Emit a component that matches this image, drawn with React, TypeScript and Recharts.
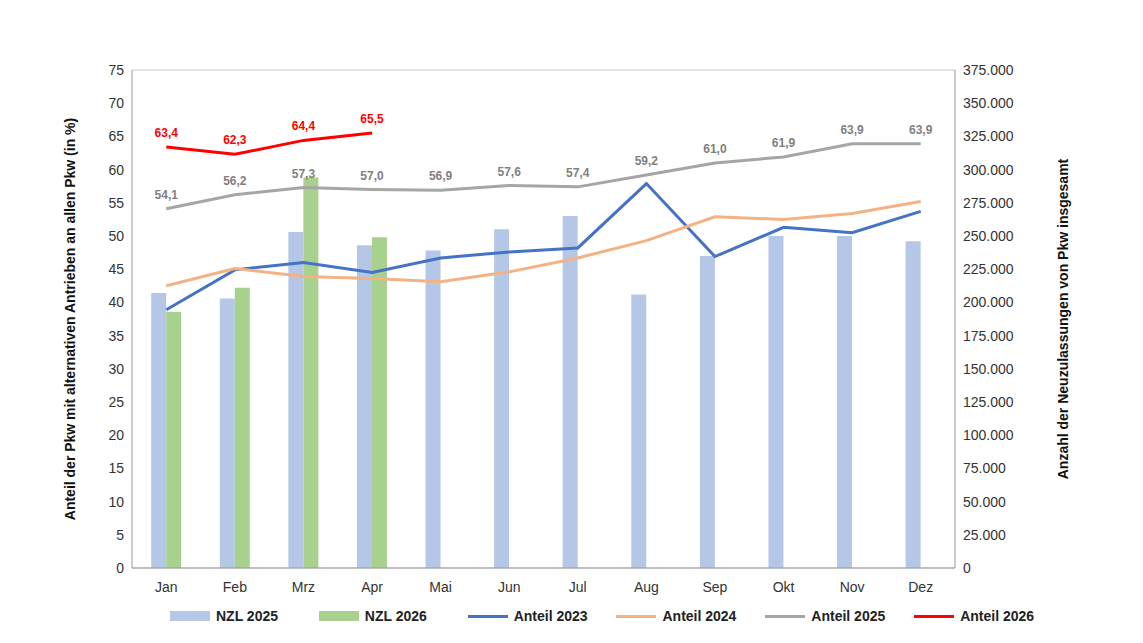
import React from 'react';
import { ComposedChart, Bar, Line, XAxis, YAxis, CartesianGrid, Legend, LabelList } from 'recharts';

const months = ['Jan', 'Feb', 'Mrz', 'Apr', 'Mai', 'Jun', 'Jul', 'Aug', 'Sep', 'Okt', 'Nov', 'Dez'];
const nzl2025 = [207000, 203000, 253000, 243000, 239000, 255000, 265000, 206000, 235000, 250000, 250000, 246000];
const nzl2026: (number | null)[] = [193000, 211000, 294000, 249000, null, null, null, null, null, null, null, null];
const anteil2023 = [38.9, 44.9, 46.0, 44.5, 46.7, 47.6, 48.2, 57.9, 46.9, 51.3, 50.5, 53.7];
const anteil2024 = [42.5, 45.1, 43.9, 43.6, 43.1, 44.6, 46.7, 49.3, 52.9, 52.5, 53.4, 55.2];
const anteil2025 = [54.1, 56.2, 57.3, 57.0, 56.9, 57.6, 57.4, 59.2, 61.0, 61.9, 63.9, 63.9];
const anteil2026: (number | null)[] = [63.4, 62.3, 64.4, 65.5, null, null, null, null, null, null, null, null];

const leftTicks = [0, 5, 10, 15, 20, 25, 30, 35, 40, 45, 50, 55, 60, 65, 70, 75];
const rightTicks = leftTicks.map((t) => t * 5000);

const data = months.map((m, i) => ({
  month: m,
  nzl2025: nzl2025[i],
  nzl2026: nzl2026[i],
  a2023: anteil2023[i],
  a2024: anteil2024[i],
  a2025: anteil2025[i],
  a2026: anteil2026[i],
}));

const legendItems = [
  { name: 'NZL 2025', color: '#B4C7E7', bar: true },
  { name: 'NZL 2026', color: '#A9D18E', bar: true },
  { name: 'Anteil 2023', color: '#4472C4', bar: false },
  { name: 'Anteil 2024', color: '#F4B183', bar: false },
  { name: 'Anteil 2025', color: '#A5A5A5', bar: false },
  { name: 'Anteil 2026', color: '#FF0000', bar: false },
];

const fmtDec = (v: any) => (v == null ? '' : Number(v).toFixed(1).replace('.', ','));
const fmtThousand = (v: number) => (v === 0 ? '0' : v.toLocaleString('de-DE'));

const renderLegend = () => (
  <div style={{ display: 'flex', fontWeight: 700, fontSize: 14, color: '#222', paddingLeft: 110 }}>
    {legendItems.map((it) => (
      <div key={it.name} style={{ display: 'flex', alignItems: 'center', width: 152 }}>
        <span
          style={{
            display: 'inline-block',
            width: 40,
            height: it.bar ? 10 : 3,
            background: it.color,
            marginRight: 6,
          }}
        />
        {it.name}
      </div>
    ))}
  </div>
);

const tickStyle = { fontSize: 14, fill: '#333' };

export default function App() {
  return (
    <div style={{ fontFamily: 'Liberation Sans, Arial, sans-serif', background: '#fff' }}>
      <ComposedChart
        width={1127}
        height={616}
        data={data}
        margin={{ top: 62, right: 72, left: 52, bottom: 10 }}
        barCategoryGap="28%"
        barGap={0}
      >
        <CartesianGrid vertical={false} stroke="#c8c8c8" />
        <XAxis dataKey="month" tick={tickStyle} tickLine={false} axisLine={{ stroke: '#999' }} tickMargin={8} />
        <YAxis
          yAxisId="left"
          domain={[0, 75]}
          ticks={leftTicks}
          interval={0}
          tick={tickStyle}
          tickLine={false}
          axisLine={{ stroke: '#999' }}
          width={72}
          label={{
            value: 'Anteil der Pkw mit alternativen Antrieben an allen Pkw (in %)',
            angle: -90,
            position: 'insideLeft',
            offset: 10,
            style: { textAnchor: 'middle', fontSize: 14, fontWeight: 700, fill: '#111' },
          }}
        />
        <YAxis
          yAxisId="right"
          orientation="right"
          domain={[0, 375000]}
          ticks={rightTicks}
          interval={0}
          tickFormatter={fmtThousand}
          tick={tickStyle}
          tickLine={false}
          axisLine={{ stroke: '#999' }}
          width={108}
          label={{
            value: 'Anzahl der Neuzulassungen von Pkw insgesamt',
            angle: -90,
            position: 'insideRight',
            offset: 0,
            style: { textAnchor: 'middle', fontSize: 14, fontWeight: 700, fill: '#111' },
          }}
        />
        <Legend verticalAlign="bottom" content={renderLegend} wrapperStyle={{ bottom: 0 }} />
        <Bar yAxisId="right" dataKey="nzl2025" fill="#B4C7E7" isAnimationActive={false} />
        <Bar yAxisId="right" dataKey="nzl2026" fill="#A9D18E" isAnimationActive={false} />
        <Line yAxisId="left" type="linear" dataKey="a2023" stroke="#4472C4" strokeWidth={3} dot={false} isAnimationActive={false} />
        <Line yAxisId="left" type="linear" dataKey="a2024" stroke="#F4B183" strokeWidth={3} dot={false} isAnimationActive={false} />
        <Line yAxisId="left" type="linear" dataKey="a2025" stroke="#A5A5A5" strokeWidth={3} dot={false} isAnimationActive={false}>
          <LabelList dataKey="a2025" position="top" offset={10} formatter={fmtDec} style={{ fontSize: 12, fontWeight: 700, fill: '#7f7f7f' }} />
        </Line>
        <Line yAxisId="left" type="linear" dataKey="a2026" stroke="#FF0000" strokeWidth={3} dot={false} isAnimationActive={false}>
          <LabelList dataKey="a2026" position="top" offset={10} formatter={fmtDec} style={{ fontSize: 12, fontWeight: 700, fill: '#FF0000' }} />
        </Line>
      </ComposedChart>
    </div>
  );
}
